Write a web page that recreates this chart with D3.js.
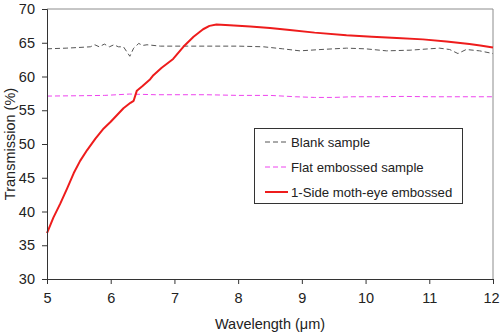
<!DOCTYPE html>
<html>
<head>
<meta charset="utf-8">
<script src="https://cdn.jsdelivr.net/npm/d3@7"></script>
<style>
  html, body { margin: 0; padding: 0; background: #fff; }
  svg { display: block; font-family: "Liberation Sans", Arial, sans-serif; }
</style>
</head>
<body>
<svg id="chart" width="500" height="334"></svg>
<script>
// Wavelength (µm) / transmission (%)
const blankX = [5.0, 5.3, 5.5, 5.68, 5.75, 5.82, 5.9, 5.98, 6.05, 6.12, 6.2, 6.3, 6.36, 6.44, 6.5, 6.57, 6.78, 7.2, 7.6, 8.0, 8.4, 8.7, 8.97, 9.3, 9.7, 10.0, 10.33, 10.7, 11.0, 11.16, 11.32, 11.45, 11.58, 11.79, 12.0];
const blankY = [64.1, 64.2, 64.3, 64.4, 64.7, 64.4, 64.8, 64.4, 64.7, 64.4, 64.4, 63.0, 64.2, 64.9, 64.6, 64.7, 64.5, 64.5, 64.5, 64.5, 64.4, 64.1, 63.8, 64.0, 64.2, 64.1, 63.8, 63.9, 64.1, 64.2, 64.0, 63.4, 64.0, 63.8, 63.4];

const flatX = [5.0, 5.5, 5.9, 6.1, 6.3, 6.5, 6.7, 7.0, 7.5, 8.0, 8.5, 8.9, 9.2, 9.5, 9.8, 10.2, 10.6, 11.0, 11.5, 12.0];
const flatY = [57.1, 57.15, 57.2, 57.3, 57.4, 57.35, 57.3, 57.3, 57.3, 57.2, 57.2, 57.0, 56.9, 56.9, 57.0, 57.0, 57.05, 57.0, 57.0, 57.0];

const mothX = [5.0, 5.1, 5.21, 5.32, 5.42, 5.52, 5.63, 5.76, 5.89, 6.0, 6.1, 6.2, 6.31, 6.36, 6.41, 6.5, 6.62, 6.67, 6.8, 6.98, 7.14, 7.3, 7.45, 7.55, 7.66, 7.87, 8.19, 8.5, 8.81, 9.2, 9.7, 10.1, 10.49, 10.9, 11.27, 11.63, 11.8, 12.0];
const mothY = [36.8, 39.1, 41.2, 43.5, 45.7, 47.5, 49.1, 50.8, 52.3, 53.3, 54.3, 55.3, 56.1, 56.4, 57.9, 58.6, 59.6, 60.2, 61.3, 62.6, 64.4, 65.9, 67.0, 67.5, 67.7, 67.6, 67.4, 67.2, 66.9, 66.5, 66.1, 65.9, 65.7, 65.5, 65.2, 64.8, 64.6, 64.3];

const xTicks = [5, 6, 7, 8, 9, 10, 11, 12];
const yTicks = [30, 35, 40, 45, 50, 55, 60, 65, 70];

const seriesNames = ["Blank sample", "Flat embossed sample", "1-Side moth-eye embossed"];
const seriesColors = ["#555555", "#ee44ee", "#ee1c1c"];
const seriesDash = ["5,3", "5,3", null];
const seriesWidth = [1, 1, 2];

const svg = d3.select("#chart");
const margin = { top: 9, right: 7, bottom: 55, left: 47 };
const W = 500, H = 334;
const iW = W - margin.left - margin.right;
const iH = H - margin.top - margin.bottom;

const x = d3.scaleLinear().domain([5, 12]).range([0, iW]);
const y = d3.scaleLinear().domain([30, 70]).range([iH, 0]);

const g = svg.append("g").attr("transform", `translate(${margin.left},${margin.top})`);

// frame (top / right)
g.append("path")
  .attr("d", `M0,0H${iW}V${iH}`)
  .attr("fill", "none")
  .attr("stroke", "#8c8c8c")
  .attr("stroke-width", 1);

const series = [
  d3.zip(blankX, blankY),
  d3.zip(flatX, flatY),
  d3.zip(mothX, mothY),
];

const line = d3.line().x((d) => x(d[0])).y((d) => y(d[1]));

series.forEach((pts, i) => {
  g.append("path")
    .datum(pts)
    .attr("d", line)
    .attr("fill", "none")
    .attr("stroke", seriesColors[i])
    .attr("stroke-width", seriesWidth[i])
    .attr("stroke-dasharray", seriesDash[i])
    .attr("stroke-linejoin", "round");
});

// Axes
g.append("g")
  .attr("transform", `translate(0,${iH})`)
  .call(d3.axisBottom(x).tickValues(xTicks).tickSize(5).tickPadding(9).tickFormat(d3.format("d")))
  .call((a) => a.select(".domain").attr("stroke", "#333"))
  .call((a) => a.selectAll("line").attr("stroke", "#333"))
  .call((a) => a.selectAll("text").attr("fill", "#222").attr("font-size", 14.5).attr("font-family", "Liberation Sans, Arial, sans-serif"))
  // keep the last label inside the page edge
  .call((a) => a.selectAll(".tick").filter((d) => d === 12).select("text").attr("x", -2));

g.append("g")
  .call(d3.axisLeft(y).tickValues(yTicks).tickSize(5).tickPadding(7).tickFormat(d3.format("d")))
  .call((a) => a.select(".domain").attr("stroke", "#333"))
  .call((a) => a.selectAll("line").attr("stroke", "#333"))
  .call((a) => a.selectAll("text").attr("fill", "#222").attr("font-size", 14.5).attr("font-family", "Liberation Sans, Arial, sans-serif"));

// Axis titles
svg.append("text")
  .attr("x", margin.left + iW / 2)
  .attr("y", 329)
  .attr("text-anchor", "middle")
  .attr("font-size", 14.5)
  .attr("fill", "#222")
  .text("Wavelength (μm)");

svg.append("text")
  .attr("transform", `translate(10,${margin.top + iH / 2}) rotate(-90)`)
  .attr("text-anchor", "middle")
  .attr("dy", "0.35em")
  .attr("font-size", 14.5)
  .attr("fill", "#222")
  .text("Transmission (%)");

// Legend
const legend = svg.append("g").attr("transform", "translate(254,128)");
legend.append("rect")
  .attr("x", 0.5)
  .attr("y", 0.5)
  .attr("width", 208)
  .attr("height", 75)
  .attr("fill", "#fff")
  .attr("stroke", "#333");

seriesNames.forEach((name, i) => {
  const ly = 14 + i * 25;
  legend.append("line")
    .attr("x1", 11)
    .attr("x2", 34)
    .attr("y1", ly)
    .attr("y2", ly)
    .attr("stroke", seriesColors[i])
    .attr("stroke-width", seriesWidth[i])
    .attr("stroke-dasharray", seriesDash[i]);
  legend.append("text")
    .attr("x", 37)
    .attr("y", ly)
    .attr("dy", "0.35em")
    .attr("font-size", 13.2)
    .attr("fill", "#222")
    .text(name);
});
</script>
</body>
</html>
